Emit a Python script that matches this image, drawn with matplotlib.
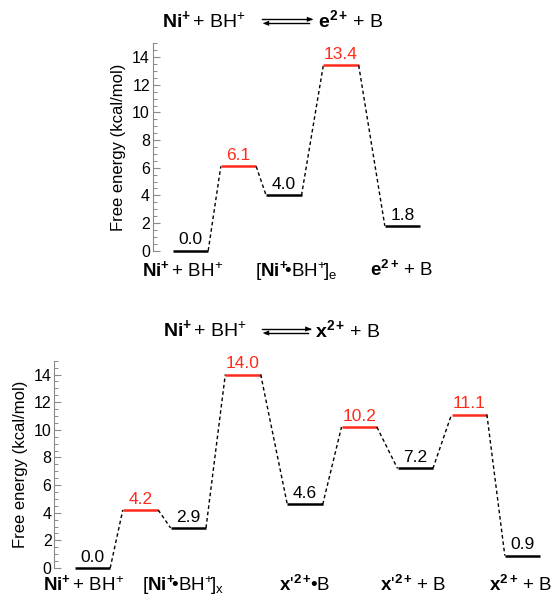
import matplotlib
matplotlib.use("Agg")
import matplotlib.pyplot as plt
from matplotlib.ticker import MultipleLocator

plt.rcParams['font.family'] = ['Liberation Sans', 'DejaVu Sans']
plt.rcParams['mathtext.fontset'] = 'custom'
plt.rcParams['mathtext.rm'] = 'Liberation Sans'
plt.rcParams['mathtext.bf'] = 'Liberation Sans:bold'
plt.rcParams['mathtext.it'] = 'Liberation Sans:italic'
plt.rcParams['mathtext.sf'] = 'Liberation Sans'

# ---------------- data ----------------
top_energies = [0.0, 6.1, 4.0, 13.4, 1.8]
top_is_ts = [False, True, False, True, False]
top_state_labels = [r'$\mathbf{Ni^{+}}\!$ + BH$^{+}$',
                    r'[$\mathbf{Ni^{+}}\!$•BH$^{+}\!$]$_{\mathrm{e}}$',
                    r'$\mathbf{e^{2+}}\!$ + B']

bot_energies = [0.0, 4.2, 2.9, 14.0, 4.6, 10.2, 7.2, 11.1, 0.9]
bot_is_ts = [False, True, False, True, False, True, False, True, False]
bot_state_labels = [r'$\mathbf{Ni^{+}}\!$ + BH$^{+}$',
                    r'[$\mathbf{Ni^{+}}\!$•BH$^{+}\!$]$_{\mathrm{x}}$',
                    r"$\mathbf{x}$'$^{\mathbf{2+}}\!$•B",
                    r"$\mathbf{x}$'$^{\mathbf{2+}}\!$ + B",
                    r'$\mathbf{x^{2+}}\!$ + B']

top_title_left = r'$\mathbf{Ni^{+}}\!$ + BH$^{+}$'
top_title_right = r'$\mathbf{e^{2+}}\!$ + B'
bot_title_left = r'$\mathbf{Ni^{+}}\!$ + BH$^{+}$'
bot_title_right = r'$\mathbf{x^{2+}}\!$ + B'

y_label = 'Free energy (kcal/mol)'
y_max = 15
y_major = 2
y_minor = 0.5

# ---------------- layout (pixel-based) ----------------
W, H = 557, 597
top_x = [190.5, 238.5, 283.8, 341.0, 402.5]
bot_x = [92.5, 140.5, 188.3, 243.0, 305.0, 359.2, 415.2, 469.2, 522.5]
top_label_x = [182.5, 296.0, 401.5]
bot_label_x = [84.0, 182.5, 305.0, 413.0, 520.0]
half_w = 17.7
RED = '#ff2a1a'

fig = plt.figure(figsize=(W / 100, H / 100), dpi=100)


def make_axes(left_px, top_px, bottom_px):
    ax = fig.add_axes([left_px / W, (H - bottom_px) / H,
                       (W - left_px) / W, (bottom_px - top_px) / H])
    ax.set_xlim(left_px, W)
    ax.set_ylim(0, y_max)
    for s in ['top', 'right', 'bottom']:
        ax.spines[s].set_visible(False)
    ax.spines['left'].set_color('#8a8a8a')
    ax.spines['left'].set_linewidth(0.8)
    ax.set_xticks([])
    ax.yaxis.set_major_locator(MultipleLocator(y_major))
    ax.yaxis.set_minor_locator(MultipleLocator(y_minor))
    ax.set_yticks(range(0, 15, 2))
    ax.tick_params(axis='y', which='major', direction='in', length=5,
                   width=0.8, color='#8a8a8a', labelsize=11.5, pad=2.0)
    ax.tick_params(axis='y', which='minor', direction='in', length=3,
                   width=0.7, color='#8a8a8a')
    ax.set_ylabel(y_label, fontsize=12)
    ax.yaxis.set_label_coords(-26.5 / (W - left_px), 0.5)
    ax.yaxis.label.set_va('bottom')
    return ax


def draw_profile(ax, xs, energies, is_ts):
    for i, (x, e, ts) in enumerate(zip(xs, energies, is_ts)):
        c = RED if ts else 'black'
        ax.plot([x - half_w, x + half_w], [e, e], color=c, lw=1.8,
                solid_capstyle='butt', clip_on=False)
        ax.annotate(f'{e:.1f}', (x, e), xytext=(0, 4.5),
                    textcoords='offset points', ha='center', va='baseline',
                    fontsize=12.5, color=c)
        if i + 1 < len(xs):
            ax.plot([x + half_w, xs[i + 1] - half_w], [e, energies[i + 1]],
                    color='black', lw=1.0, ls=(0, (2.6, 2.0)), clip_on=False)


def draw_title(left_text, right_text, left_x, right_x, base_y,
               arr_x0, arr_x1):
    fig.text(left_x / W, (H - base_y) / H, left_text, ha='left',
             va='baseline', fontsize=14)
    fig.text(right_x / W, (H - base_y) / H, right_text, ha='left',
             va='baseline', fontsize=14)
    y_up = H - (base_y - 8.0)
    y_lo = H - (base_y - 4.0)
    hl, hw = 6.5, 2.6
    fig.add_artist(plt.Line2D([arr_x0 / W, (arr_x1 - 2) / W],
                              [y_up / H, y_up / H], color='black', lw=1.0))
    fig.add_artist(plt.Line2D([(arr_x0 + 3) / W, (arr_x1 - 4) / W],
                              [y_lo / H, y_lo / H], color='black', lw=1.0))
    fig.add_artist(plt.Polygon([[arr_x1 / W, y_up / H],
                                [(arr_x1 - hl) / W, (y_up + hw) / H],
                                [(arr_x1 - hl) / W, (y_up - hw) / H]],
                               closed=True, color='black', lw=0))
    fig.add_artist(plt.Polygon([[(arr_x0 + 1) / W, y_lo / H],
                                [(arr_x0 + 1 + hl) / W, (y_lo + hw) / H],
                                [(arr_x0 + 1 + hl) / W, (y_lo - hw) / H]],
                               closed=True, color='black', lw=0))


# top chart
ax1 = make_axes(152.7, 43.3, 250.7)
draw_profile(ax1, top_x, top_energies, top_is_ts)
for lx, lab in zip(top_label_x, top_state_labels):
    fig.text(lx / W, (H - 276.5) / H, lab, ha='center', va='baseline',
             fontsize=13.5)
draw_title(top_title_left, top_title_right, 161.7, 318.3, 27.3, 261.7, 313.3)

# bottom chart
ax2 = make_axes(54.3, 360.7, 568.0)
draw_profile(ax2, bot_x, bot_energies, bot_is_ts)
for lx, lab in zip(bot_label_x, bot_state_labels):
    fig.text(lx / W, (H - 591.0) / H, lab, ha='center', va='baseline',
             fontsize=13.5)
draw_title(bot_title_left, bot_title_right, 162.7, 315.0, 337.0, 261.7, 311.7)

fig.savefig('out.png', dpi=100)
